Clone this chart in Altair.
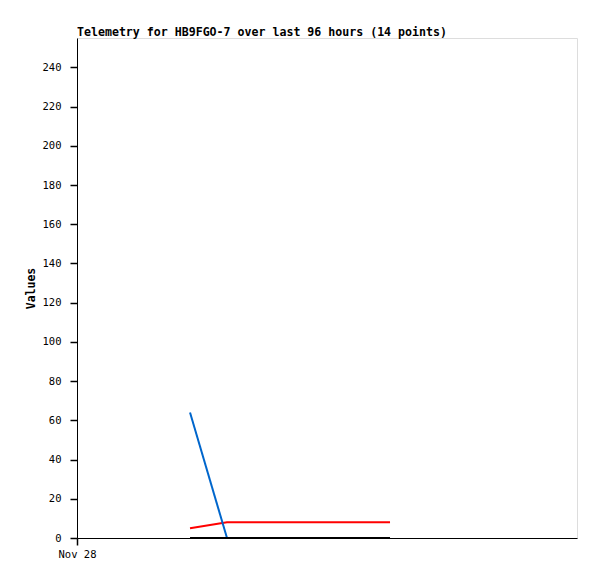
import altair as alt
import pandas as pd

# Hours since the left edge of the 96-hour window
hours = [21.7, 28.8, 60.1]
red_values = [5, 8, 8]
black_values = [0, 0, 0]
blue_hours = [21.7, 28.8]
blue_values = [64, 0]
y_ticks = list(range(0, 241, 20))
x_tick_label = "Nov 28"
title_text = "Telemetry for HB9FGO-7 over last 96 hours (14 points)"

red_df = pd.DataFrame({"t": hours, "v": red_values})
black_df = pd.DataFrame({"t": hours, "v": black_values})
blue_df = pd.DataFrame({"t": blue_hours, "v": blue_values})

FONT = "DejaVu Sans Mono"

x_enc = alt.X(
    "t:Q",
    scale=alt.Scale(domain=[0, 96], nice=False, zero=False),
    axis=alt.Axis(
        values=[0],
        labelExpr=f"'{x_tick_label}'",
        title=None,
        grid=False,
        ticks=True,
        tickSize=7,
        tickWidth=1.5,
        tickColor="black",
        labelAlign="center",
        labelPadding=4,
        labelFont=FONT,
        labelFontSize=10.5,
        labelColor="black",
        domainColor="black",
    ),
)
y_enc = alt.Y(
    "v:Q",
    scale=alt.Scale(domain=[0, 255], nice=False),
    axis=alt.Axis(
        values=y_ticks,
        title="Values",
        grid=False,
        ticks=True,
        tickSize=7,
        tickWidth=1.5,
        tickColor="black",
        labelPadding=9,
        titlePadding=6,
        labelFont=FONT,
        labelFontSize=10.5,
        labelColor="black",
        domainColor="black",
        titleFont=FONT,
        titleFontSize=11.5,
        titleFontWeight="bold",
        titleColor="black",
    ),
)

red = alt.Chart(red_df).mark_line(color="#ff0000", strokeWidth=2).encode(x=x_enc, y=y_enc)
blue = alt.Chart(blue_df).mark_line(color="#0066cc", strokeWidth=2).encode(x=x_enc, y=y_enc)
black = alt.Chart(black_df).mark_line(color="#000000", strokeWidth=2).encode(x=x_enc, y=y_enc)

chart = (
    alt.layer(red, blue, black)
    .properties(
        width=500,
        height=500,
        title=alt.TitleParams(
            text=title_text,
            anchor="start",
            frame="group",
            font=FONT,
            fontSize=11.6,
            fontWeight="bold",
            color="black",
            offset=-1,
        ),
        autosize=alt.AutoSizeParams(type="none"),
        padding={"left": 69, "top": 30, "right": 12, "bottom": 33},
    )
    .configure_view(stroke="#444444", strokeWidth=1.5)
    .configure(background="white")
)

chart.save("out.html", embed_options={"renderer": "svg", "actions": False})
